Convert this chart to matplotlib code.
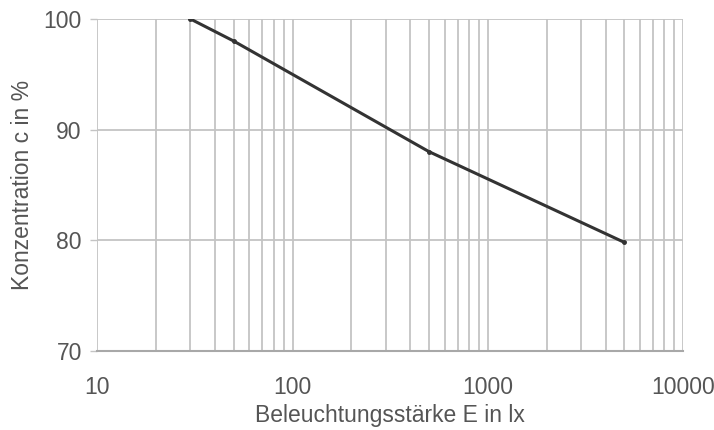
import matplotlib.pyplot as plt
from matplotlib.ticker import LogLocator, FixedLocator, NullFormatter

# Messwerte: Beleuchtungsstärke (lx) und Konzentration (%)
beleuchtung = [30, 50, 500, 5000]
konzentration = [100, 98, 88, 79.8]

x_ticks = [10, 100, 1000, 10000]
x_labels = ["10", "100", "1000", "10000"]
y_ticks = [70, 80, 90, 100]

plt.rcParams["font.family"] = ["Liberation Sans", "DejaVu Sans"]

fig = plt.figure(figsize=(7.14, 4.30), dpi=100)
ax = fig.add_axes([0.136, 0.184, 0.821, 0.772])

ax.plot(beleuchtung, konzentration, color="#333333", linewidth=2.2,
        marker="o", markersize=2.5, zorder=3)

ax.set_xscale("log")
ax.set_xlim(10, 10000)
ax.set_ylim(70, 100)

ax.xaxis.set_major_locator(FixedLocator(x_ticks))
ax.set_xticklabels(x_labels)
ax.xaxis.set_minor_locator(LogLocator(base=10, subs=range(2, 10)))
ax.xaxis.set_minor_formatter(NullFormatter())
ax.set_yticks(y_ticks)

# Gitternetz
ax.grid(which="both", axis="x", color="#c4c4c4", linewidth=1.3)
ax.grid(which="major", axis="y", color="#c4c4c4", linewidth=1.3)

for s in ["top", "right", "left"]:
    ax.spines[s].set_visible(False)
ax.spines["bottom"].set_color("#a8a8a8")
ax.spines["bottom"].set_linewidth(1.5)

ax.tick_params(axis="x", which="both", length=0, pad=18, labelsize=16.5, labelcolor="#555555")
ax.tick_params(axis="y", length=5, width=1, color="#c4c4c4", pad=6, labelsize=16.5, labelcolor="#555555")

ax.set_xlabel("Beleuchtungsstärke E in lx", fontsize=16.5, color="#555555", labelpad=4)
ax.set_ylabel("Konzentration c in %", fontsize=16.5, color="#555555", labelpad=7)

fig.savefig("out.png", dpi=100)
